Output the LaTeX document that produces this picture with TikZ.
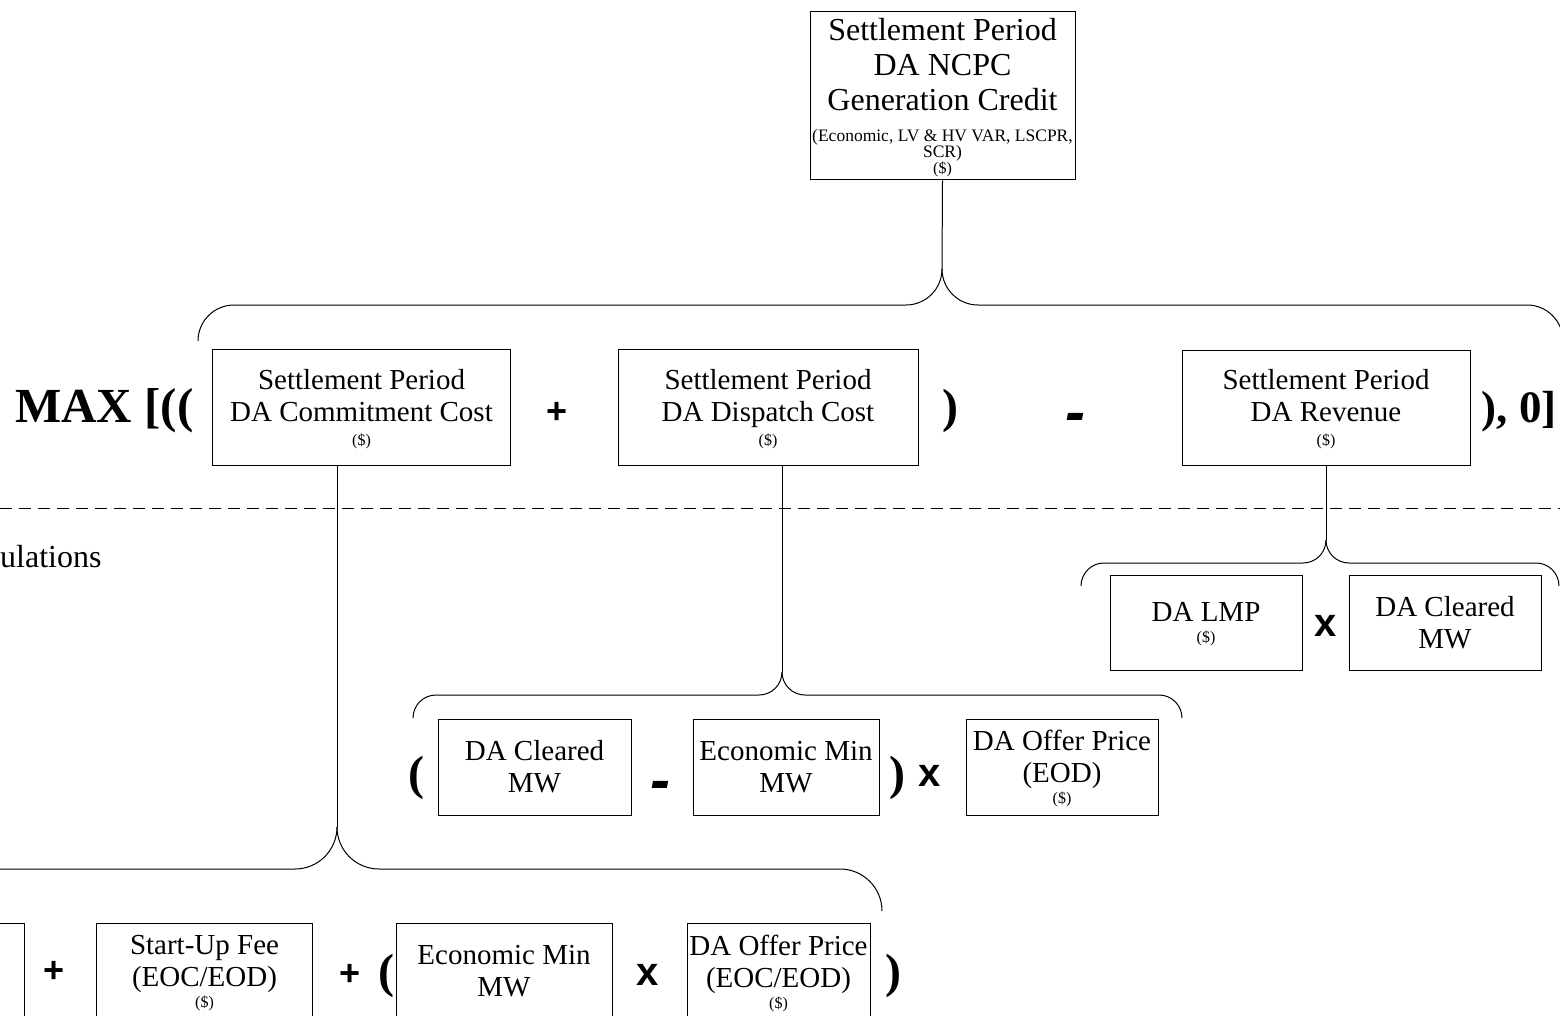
\documentclass[tikz,border=0pt]{standalone}
\usepackage{fontspec}
\setmainfont{Liberation Serif}
\setsansfont{Liberation Sans}
\newcommand{\dol}{{\fontsize{16}{16}\selectfont\smash{(\$)}}}
\tikzset{
  box/.style = {draw, line width=1pt, align=center, inner sep=0pt,
                font=\fontsize{29}{32}\selectfont},
  op/.style = {inner sep=0pt, font=\fontsize{36}{40}\selectfont\sffamily\bfseries},
  times/.style = {op, font=\fontsize{40}{44}\selectfont\sffamily\bfseries},
  minus/.style = {op, font=\fontsize{60}{60}\selectfont\sffamily\bfseries\itshape},
  paren/.style = {inner sep=0pt, anchor=base, font=\fontsize{48}{50}\selectfont\bfseries},
  brace/.style = {line width=1pt},
}
\begin{document}
\begin{tikzpicture}[x=1pt, y=-1pt]
  \useasboundingbox (0,0) rectangle (1560,1016);
  \clip (0,0) rectangle (1560,1016);

  \node[box, minimum width=265pt, minimum height=168pt,
        font=\fontsize{32}{35}\selectfont] (credit) at (942.5,96)
    {Settlement Period\\DA NCPC\\Generation Credit\\[-4pt]
     {\fontsize{17.5}{18}\selectfont(Economic, LV \& HV VAR, LSCPR,}\\[-19pt]
     {\fontsize{17.5}{18}\selectfont SCR)}\\[-19pt]\dol};

  \node[box, minimum width=298pt, minimum height=116pt] (commit) at (361.5,407)
    {Settlement Period\\DA Commitment Cost\\[-8pt]\dol};
  \node[box, minimum width=300pt, minimum height=116pt] (dispatch) at (768,407)
    {Settlement Period\\DA Dispatch Cost\\[-8pt]\dol};
  \node[box, minimum width=288pt, minimum height=115pt] (revenue) at (1326,407.5)
    {Settlement Period\\DA Revenue\\[-8pt]\dol};

  \node[paren, anchor=base west, font=\fontsize{49}{50}\selectfont\bfseries] (max) at (15,422) {MAX [((};
  \node[op] (plus1) at (557,413) {+};
  \node[paren] (close1) at (950,422) {)};
  \node[minus] (minus1) at (1075,423) {-};
  \node[paren, anchor=base east, font=\fontsize{45}{50}\selectfont\bfseries] (zero) at (1557,422) {), 0]};

  \draw[line width=1pt, dash pattern=on 12pt off 7pt] (0,508) -- (1560,508);
  \node[anchor=base west, inner sep=0pt, font=\fontsize{32}{36}\selectfont] (calc) at (0,567) {ulations};

  \node[box, minimum width=192pt, minimum height=95pt] (lmp) at (1206,622.5)
    {DA LMP\\[-11pt]\dol};
  \node[times] (times1) at (1326,626) {x};
  \node[box, minimum width=192pt, minimum height=95pt] (cleared1) at (1445,622.5)
    {DA Cleared\\MW};

  \node[paren] (open3) at (416,789) {(};
  \node[box, minimum width=193pt, minimum height=96pt] (cleared2) at (534.5,767)
    {DA Cleared\\MW};
  \node[minus] (minus2) at (660,791) {-};
  \node[box, minimum width=186pt, minimum height=96pt] (ecomin1) at (786,767)
    {Economic Min\\MW};
  \node[paren] (close3) at (897,789) {)};
  \node[times] (times2) at (930,776) {x};
  \node[box, minimum width=192pt, minimum height=96pt] (offer1) at (1062,767)
    {DA Offer Price\\(EOD)\\[-11pt]\dol};

  \node[box, minimum width=200pt, minimum height=97pt] (fixed) at (-76,971.5) {};
  \node[op] (plus2) at (54,972) {+};
  \node[box, minimum width=216pt, minimum height=97pt] (startup) at (204.5,971.5)
    {Start-Up Fee\\(EOC/EOD)\\[-11pt]\dol};
  \node[op] (plus3) at (350,975) {+};
  \node[paren] (open4) at (386,987) {(};
  \node[box, minimum width=216pt, minimum height=97pt] (ecomin2) at (504,971.5)
    {Economic Min\\MW};
  \node[times] (times3) at (648,975) {x};
  \node[box, minimum width=183pt, minimum height=97pt] (offer2) at (778.5,971.5)
    {DA Offer Price\\(EOC/EOD)\\[-11pt]\dol};
  \node[paren] (close4) at (893,987) {)};

  \coordinate (creditTip) at (942,269);
  \coordinate (revenueTip) at (1326,540);
  \coordinate (dispatchTip) at (782,672);
  \coordinate (commitTip) at (337,827);

  \draw[brace, rounded corners=36pt] (198,341) -- (198,305) -- (942,305) -- (creditTip);
  \draw[brace, rounded corners=36pt] (creditTip) -- (942,305) -- (1563,305) -- (1563,341);
  \draw[brace, rounded corners=23pt] (1081,586) -- (1081,563) -- (1326,563) -- (revenueTip);
  \draw[brace, rounded corners=23pt] (revenueTip) -- (1326,563) -- (1559,563) -- (1559,586);
  \draw[brace, rounded corners=23pt] (413,718) -- (413,695) -- (782,695) -- (dispatchTip);
  \draw[brace, rounded corners=23pt] (dispatchTip) -- (782,695) -- (1182,695) -- (1182,718);
  \draw[brace, rounded corners=42pt] (-210,911) -- (-210,869) -- (337,869) -- (commitTip);
  \draw[brace, rounded corners=42pt] (commitTip) -- (337,869) -- (882,869) -- (882,911);

  \draw[line width=1pt] (credit.south) -- (creditTip);
  \draw[line width=1pt] (revenue.south) -- (revenueTip);
  \draw[line width=1pt] (dispatchTip |- dispatch.south) -- (dispatchTip);
  \draw[line width=1pt] (commitTip |- commit.south) -- (commitTip);
\end{tikzpicture}
\end{document}
